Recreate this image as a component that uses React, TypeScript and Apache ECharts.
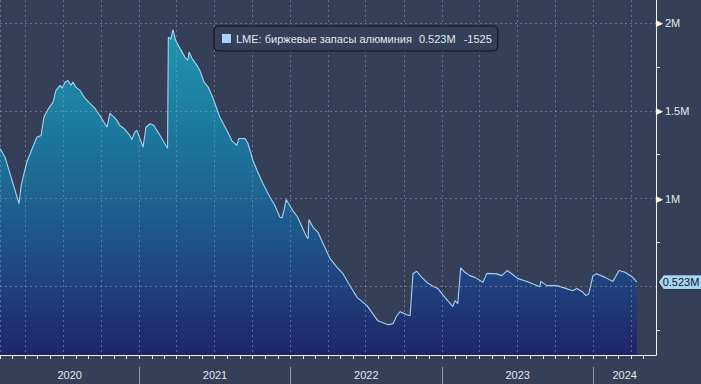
import React, { useEffect, useRef } from "react";
import * as echarts from "echarts";

const SERIES_NAME = "LME: биржевые запасы алюминия";
const LAST_VALUE_TEXT = "0.523M";
const CHANGE_TEXT = "-1525";
const LAST_VALUE = 0.523;

const DATES = [
  "2020-01-31", "2020-02-12", "2020-03-17", "2020-03-22", "2020-03-29", "2020-04-05", "2020-04-20", "2020-04-29",
  "2020-05-09", "2020-05-16", "2020-05-26", "2020-06-07", "2020-06-14", "2020-06-24", "2020-06-29", "2020-07-06",
  "2020-07-13", "2020-07-20", "2020-07-25", "2020-08-01", "2020-08-11", "2020-08-23", "2020-09-16", "2020-09-28",
  "2020-10-15", "2020-10-22", "2020-11-01", "2020-11-08", "2020-11-15", "2020-11-25", "2020-12-09", "2020-12-14",
  "2020-12-21", "2020-12-26", "2020-12-31", "2021-01-10", "2021-01-17", "2021-01-27", "2021-02-05", "2021-02-20",
  "2021-03-10", "2021-03-12", "2021-03-18", "2021-03-23", "2021-03-30", "2021-04-09", "2021-04-21", "2021-04-28",
  "2021-05-01", "2021-05-08", "2021-05-20", "2021-05-27", "2021-06-06", "2021-06-16", "2021-06-28", "2021-07-14",
  "2021-07-31", "2021-08-12", "2021-08-24", "2021-08-29", "2021-09-13", "2021-09-20", "2021-10-02", "2021-10-12",
  "2021-10-26", "2021-11-12", "2021-11-24", "2021-12-06", "2021-12-11", "2021-12-16", "2021-12-21", "2021-12-25",
  "2022-01-06", "2022-01-18", "2022-01-30", "2022-02-09", "2022-02-12", "2022-02-14", "2022-02-24", "2022-03-08",
  "2022-03-20", "2022-04-06", "2022-04-23", "2022-05-07", "2022-05-19", "2022-06-10", "2022-07-04", "2022-07-30",
  "2022-08-24", "2022-09-05", "2022-09-14", "2022-09-22", "2022-10-08", "2022-10-16", "2022-10-23", "2022-11-01",
  "2022-11-13", "2022-11-28", "2022-12-15", "2022-12-22", "2023-01-08", "2023-01-27", "2023-02-01", "2023-02-08",
  "2023-02-15", "2023-02-25", "2023-03-09", "2023-03-21", "2023-04-10", "2023-04-19", "2023-05-13", "2023-05-25",
  "2023-06-07", "2023-06-18", "2023-07-03", "2023-07-25", "2023-08-25", "2023-08-27", "2023-09-11", "2023-10-05",
  "2023-10-19", "2023-11-12", "2023-11-22", "2023-12-07", "2023-12-14", "2023-12-21", "2023-12-31", "2024-01-09",
  "2024-01-29", "2024-02-17", "2024-03-03", "2024-03-17", "2024-04-03", "2024-04-15",
];

const VALUES = [
  1.286, 1.236, 0.97, 1.074, 1.143, 1.21, 1.3, 1.35,
  1.36, 1.465, 1.51, 1.55, 1.617, 1.646, 1.63, 1.665,
  1.674, 1.646, 1.665, 1.636, 1.617, 1.571, 1.514, 1.474,
  1.407, 1.486, 1.465, 1.446, 1.417, 1.4, 1.36, 1.337,
  1.379, 1.389, 1.36, 1.293, 1.407, 1.427, 1.417, 1.36,
  1.287, 1.92, 1.91, 1.964, 1.9, 1.857, 1.807, 1.789,
  1.836, 1.8, 1.76, 1.731, 1.665, 1.636, 1.571, 1.465,
  1.389, 1.331, 1.303, 1.343, 1.343, 1.314, 1.217, 1.16,
  1.086, 1.007, 0.96, 0.893, 0.89, 0.931, 0.994, 0.979,
  0.931, 0.893, 0.829, 0.779, 0.771, 0.88, 0.836, 0.807,
  0.743, 0.657, 0.607, 0.571, 0.522, 0.436, 0.389, 0.303,
  0.28, 0.286, 0.331, 0.354, 0.337, 0.331, 0.571, 0.585,
  0.55, 0.516, 0.493, 0.486, 0.436, 0.383, 0.417, 0.4,
  0.604, 0.579, 0.56, 0.55, 0.522, 0.573, 0.57, 0.56,
  0.589, 0.571, 0.543, 0.527, 0.497, 0.527, 0.503, 0.503,
  0.493, 0.474, 0.486, 0.465, 0.446, 0.457, 0.56, 0.571,
  0.55, 0.527, 0.589, 0.579, 0.554, 0.523,
];

const YEARS = [2020, 2021, 2022, 2023, 2024];
const MINOR_Y_TICKS = [0.25, 0.75, 1.25, 1.75];
const X_MIN = "2020-01-31";
const X_MAX = "2024-05-31";
const Y_MIN = 0.107;
const Y_MAX = 2.133;

const FONT = "Liberation Sans";
const BG = "#353f58";
const GRID_COLOR = "rgba(140,155,185,0.55)";
const TEXT_COLOR = "#e4e7ee";
const LINE_COLOR = "#a3d3f7";

function parseLocal(s: string) {
  const [y, m, d] = s.split("-").map(Number);
  return new Date(y, m - 1, d).getTime();
}

export default function App() {
  const ref = useRef<HTMLDivElement>(null);

  useEffect(() => {
    if (!ref.current) return;
    const chart = echarts.init(ref.current, undefined, { renderer: "svg" });
    const xMin = parseLocal(X_MIN);
    const xMax = parseLocal(X_MAX);

    const monthTicks: number[] = [];
    YEARS.forEach((y) => {
      for (let m = 0; m < 12; m++) {
        const t = new Date(y, m, 1).getTime();
        if (t > xMin && t < xMax) monthTicks.push(t);
      }
    });
    const yearStarts = YEARS.map((y) => new Date(y, 0, 1).getTime()).filter((t) => t > xMin && t < xMax);
    const yearMids = YEARS.map((y) => {
      const a = Math.max(new Date(y, 0, 1).getTime(), xMin);
      const b = Math.min(new Date(y + 1, 0, 1).getTime(), xMax);
      return (a + b) / 2;
    });

    const DAY = 86400000;
    const gridLine = { show: true, lineStyle: { color: GRID_COLOR, type: [2, 3], width: 1 } };

    chart.setOption({
      animation: false,
      backgroundColor: BG,
      textStyle: { fontFamily: FONT },
      grid: { left: 0, right: 45, top: 0, bottom: 29, containLabel: false, z: 5 },
      legend: {
        data: [SERIES_NAME],
        left: 214,
        top: 26,
        z: 10,
        icon: "rect",
        itemWidth: 9,
        itemHeight: 9,
        itemGap: 5,
        padding: [7, 6, 7, 8],
        backgroundColor: BG,
        borderColor: "#0d1018",
        borderWidth: 1,
        borderRadius: 4,
        formatter: (name: string) => `{n|${name}}{v|${LAST_VALUE_TEXT}}{c|${CHANGE_TEXT}}`,
        textStyle: {
          color: TEXT_COLOR,
          fontFamily: FONT,
          fontSize: 11,
          rich: {
            n: { color: TEXT_COLOR, fontFamily: FONT, fontSize: 11 },
            v: { color: TEXT_COLOR, fontFamily: FONT, fontSize: 11, padding: [0, 0, 0, 7] },
            c: { color: TEXT_COLOR, fontFamily: FONT, fontSize: 11, padding: [0, 0, 0, 8] },
          },
        },
      },
      xAxis: [
        {
          type: "time",
          min: xMin,
          max: xMax,
          position: "bottom",
          z: 5,
          splitNumber: 17,
          minInterval: 100 * DAY,
          maxInterval: 100 * DAY,
          axisLine: { show: true, lineStyle: { color: "#f2f2f2", width: 1 } },
          axisTick: { show: false },
          axisLabel: { show: false },
          splitLine: gridLine,
        },
        {
          type: "value",
          min: xMin,
          max: xMax,
          position: "bottom",
          z: 5,
          axisLine: { show: false },
          axisTick: { show: true, customValues: monthTicks, length: 4, lineStyle: { color: "#f2f2f2" } },
          axisLabel: {
            show: true,
            customValues: yearMids,
            formatter: (v: number) => String(new Date(v).getFullYear()),
            color: TEXT_COLOR,
            fontFamily: FONT,
            fontSize: 11,
            margin: 14,
          },
          splitLine: { show: false },
        },
        {
          type: "value",
          min: xMin,
          max: xMax,
          position: "bottom",
          offset: 12,
          z: 5,
          axisLine: { show: false },
          axisTick: { show: true, customValues: yearStarts, length: 18, lineStyle: { color: "#8e97aa" } },
          axisLabel: { show: false },
          splitLine: { show: false },
        },
      ],
      yAxis: [
        {
          type: "value",
          position: "right",
          min: Y_MIN,
          max: Y_MAX,
          splitNumber: 4,
          z: 5,
          axisLine: { show: true, lineStyle: { color: "#f2f2f2", width: 1 } },
          axisTick: { show: false },
          axisLabel: {
            show: true,
            margin: 0,
            formatter: (v: number) =>
              v >= 0.99 && Math.abs(v * 2 - Math.round(v * 2)) < 1e-6 ? `{a|▶}{b|${+v.toFixed(2)}M}` : "",
            rich: {
              a: { color: "#f2f2f2", fontFamily: "DejaVu Sans", fontSize: 9, padding: [0, 2, 0, 0] },
              b: { color: TEXT_COLOR, fontFamily: FONT, fontSize: 11 },
            },
          },
          splitLine: { ...gridLine, showMinLine: false, showMaxLine: false },
        },
        {
          type: "value",
          position: "right",
          min: Y_MIN,
          max: Y_MAX,
          z: 5,
          axisLine: { show: false },
          axisTick: { show: true, customValues: MINOR_Y_TICKS, length: 4, lineStyle: { color: "#f2f2f2" } },
          axisLabel: { show: false },
          splitLine: { show: false },
        },
      ],
      series: [
        {
          name: SERIES_NAME,
          type: "line",
          xAxisIndex: 0,
          yAxisIndex: 0,
          z: 1,
          data: DATES.map((d, i) => [d, VALUES[i]]),
          showSymbol: false,
          symbol: "none",
          itemStyle: { color: "#a8d4fa" },
          lineStyle: { color: LINE_COLOR, width: 1.1 },
          areaStyle: {
            origin: "start",
            opacity: 1,
            color: new echarts.graphic.LinearGradient(0, 0, 0, 1, [
              { offset: 0, color: "#2096b0" },
              { offset: 0.37, color: "#1c7399" },
              { offset: 0.6, color: "#1e5a8c" },
              { offset: 0.8, color: "#203f7c" },
              { offset: 1, color: "#1f2568" },
            ]),
          },
          markPoint: {
            silent: true,
            z: 10,
            symbol: "path://M0,7 L5,0 L48,0 L48,14 L5,14 Z",
            symbolSize: [48, 14],
            symbolKeepAspect: false,
            data: [
              {
                coord: [xMax, LAST_VALUE],
                symbolOffset: [26, 0],
                itemStyle: { color: "#a8d4f6", borderColor: "#1a2233", borderWidth: 0.6 },
                label: {
                  show: true,
                  position: "inside",
                  formatter: LAST_VALUE_TEXT,
                  color: "#0f1626",
                  fontFamily: FONT,
                  fontSize: 11,
                  offset: [-1, 0],
                },
              },
            ],
          },
        },
      ],
    });

    return () => chart.dispose();
  }, []);

  return (
    <div
      ref={ref}
      style={{ position: "absolute", left: 0, top: 0, width: 701, height: 384 }}
    />
  );
}
